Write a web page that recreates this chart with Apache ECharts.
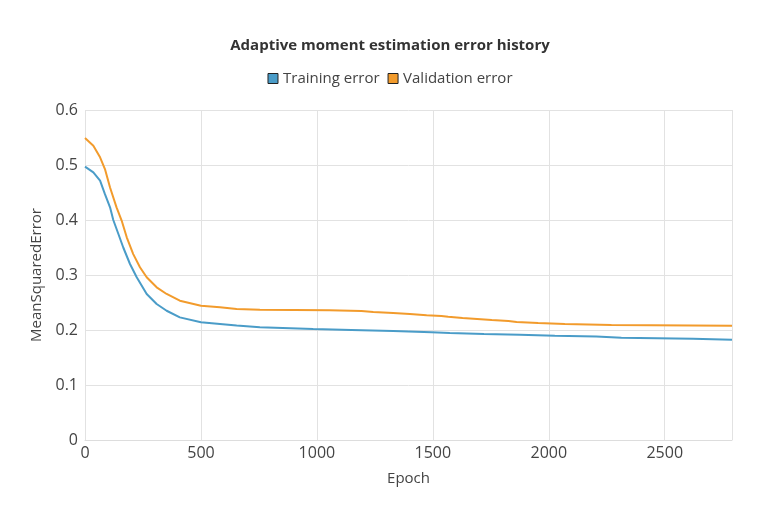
<!DOCTYPE html>
<html>
<head>
<meta charset="utf-8">
<script src="https://cdn.jsdelivr.net/npm/echarts@6/dist/echarts.min.js"></script>
<style>html,body{margin:0;padding:0;background:#fff}#c{width:780px;height:520px}</style>
</head>
<body>
<div id="c"></div>
<script>
const title = 'Adaptive moment estimation error history';
const seriesNames = ['Training error', 'Validation error'];
const trainingEpochs = [0,36,65,86,108,122,144,165,194,223,266,309,352,409,500,582,654,754,984,985,1149,1150,1329,1330,1494,1495,1573,1574,1720,1721,1875,1876,2026,2027,2205,2206,2313,2314,2622,2623,2790];
const trainingValues = [0.497,0.4867,0.4715,0.447,0.423,0.400,0.3745,0.350,0.320,0.2958,0.2655,0.2473,0.235,0.223,0.214,0.211,0.208,0.205,0.2018,0.200,0.200,0.198,0.198,0.196,0.196,0.1945,0.1945,0.1927,0.1927,0.1915,0.1915,0.1897,0.1897,0.188,0.188,0.186,0.186,0.1842,0.1842,0.1824,0.1824];
const validationEpochs = [0,36,65,86,108,136,158,180,208,237,266,309,352,409,500,582,654,754,1053,1054,1192,1193,1243,1244,1329,1330,1401,1402,1473,1474,1537,1538,1566,1567,1628,1629,1691,1692,1754,1755,1826,1827,1861,1862,1954,1955,2069,2070,2270,2271,2790];
const validationValues = [0.549,0.535,0.514,0.4927,0.459,0.423,0.399,0.3685,0.338,0.314,0.2958,0.2776,0.2655,0.2533,0.2442,0.2412,0.2382,0.237,0.236,0.2345,0.2345,0.2327,0.2327,0.231,0.231,0.229,0.229,0.227,0.227,0.2255,0.2255,0.224,0.224,0.2218,0.2218,0.220,0.220,0.218,0.218,0.2164,0.2164,0.2145,0.2145,0.2127,0.2127,0.2109,0.2109,0.209,0.209,0.2078,0.2078];
const yTicks = [0, 0.1, 0.2, 0.3, 0.4, 0.5, 0.6];
const xAxisName = 'Epoch';
const yAxisName = 'MeanSquaredError';

const font = '"Open Sans", "Noto Sans", sans-serif';
const pair = (xs, ys) => xs.map((x, i) => [x, ys[i]]);
const chart = echarts.init(document.getElementById('c'), null, {renderer: 'canvas'});
chart.setOption({
  animation: false,
  backgroundColor: '#fff',
  title: {
    text: title, left: 'center', top: 33,
    textStyle: {fontFamily: font, fontSize: 15, fontWeight: 'bold', color: '#333'}
  },
  legend: {
    top: 66, left: 'center', itemWidth: 10, itemHeight: 10, itemGap: 8,
    icon: 'rect',
    textStyle: {fontFamily: font, fontSize: 15, color: '#444'},
    data: seriesNames.map((n) => ({name: n, itemStyle: {borderColor: '#222', borderWidth: 1}}))
  },
  grid: {left: 85, right: 48, top: 110, bottom: 80, containLabel: false},
  xAxis: {
    type: 'value', min: 0, max: 2790, interval: 500,
    name: xAxisName, nameLocation: 'middle', nameGap: 31,
    nameTextStyle: {fontFamily: font, fontSize: 15, color: '#444'},
    axisLine: {lineStyle: {color: '#ddd'}},
    axisTick: {show: false},
    axisLabel: {fontFamily: font, fontSize: 16, color: '#444', showMaxLabel: false, margin: 5,
      formatter: (v) => String(v)},
    splitLine: {show: true, lineStyle: {color: '#e2e2e2'}}
  },
  yAxis: {
    type: 'value', min: yTicks[0], max: yTicks[yTicks.length - 1], interval: 0.1,
    name: yAxisName, nameLocation: 'middle', nameGap: 36, nameRotate: 90,
    nameTextStyle: {fontFamily: font, fontSize: 15, color: '#444'},
    axisLine: {show: false},
    axisTick: {show: false},
    axisLabel: {fontFamily: font, fontSize: 16, color: '#444', margin: 7,
      formatter: (v) => String(+v.toFixed(1))},
    splitLine: {lineStyle: {color: '#e2e2e2'}}
  },
  series: [
    {name: seriesNames[0], type: 'line', showSymbol: false, symbol: 'none',
     data: pair(trainingEpochs, trainingValues), lineStyle: {width: 2, color: '#4a9cc8'}, itemStyle: {color: '#4a9cc8'}},
    {name: seriesNames[1], type: 'line', showSymbol: false, symbol: 'none',
     data: pair(validationEpochs, validationValues), lineStyle: {width: 2, color: '#f29b2c'}, itemStyle: {color: '#f29b2c'}}
  ]
});
</script>
</body>
</html>
